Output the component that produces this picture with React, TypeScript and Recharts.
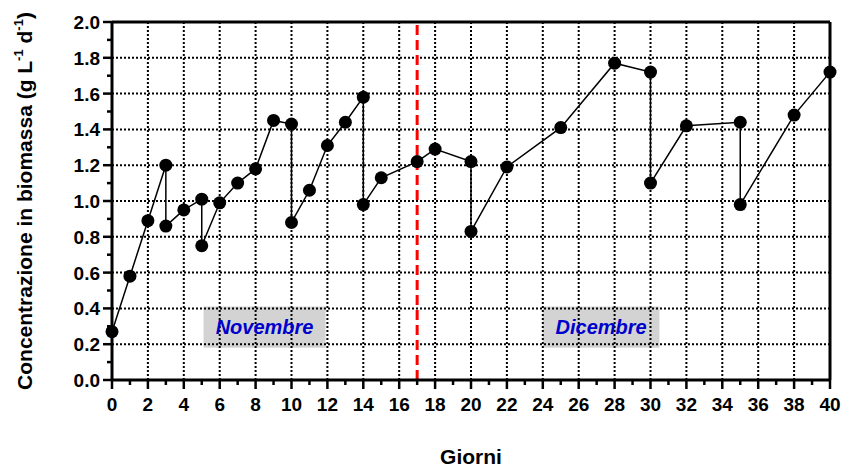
import React from 'react'
import {
  ScatterChart,
  Scatter,
  XAxis,
  YAxis,
  ReferenceLine,
  ReferenceArea,
} from 'recharts'

// giorno di campionamento e concentrazione misurata (prima/dopo diluizione)
const days = [0, 1, 2, 3, 3, 4, 5, 5, 6, 7, 8, 9, 10, 10, 11, 12, 13, 14, 14, 15, 17, 18, 20, 20, 22, 25, 28, 30, 30, 32, 35, 35, 38, 40]
const biomass = [0.27, 0.58, 0.89, 1.2, 0.86, 0.95, 1.01, 0.75, 0.99, 1.1, 1.18, 1.45, 1.43, 0.88, 1.06, 1.31, 1.44, 1.58, 0.98, 1.13, 1.22, 1.29, 1.22, 0.83, 1.19, 1.41, 1.77, 1.72, 1.1, 1.42, 1.44, 0.98, 1.48, 1.72]

const xTicks = [0, 1, 2, 3, 4, 5, 6, 7, 8, 9, 10, 11, 12, 13, 14, 15, 16, 17, 18, 19, 20, 21, 22, 23, 24, 25, 26, 27, 28, 29, 30, 31, 32, 33, 34, 35, 36, 37, 38, 39, 40]
const yTicks = [0, 0.1, 0.2, 0.3, 0.4, 0.5, 0.6, 0.7, 0.8, 0.9, 1.0, 1.1, 1.2, 1.3, 1.4, 1.5, 1.6, 1.7, 1.8, 1.9, 2.0]
const xGrid = [2, 4, 6, 8, 10, 12, 14, 16, 18, 20, 22, 24, 26, 28, 30, 32, 34, 36, 38]
const yGrid = [0.2, 0.4, 0.6, 0.8, 1.0, 1.2, 1.4, 1.6, 1.8]
const monthSplit = 17

const months = [
  { name: 'Novembre', from: 5.1, to: 11.9 },
  { name: 'Dicembre', from: 24.0, to: 30.5 },
]

const data = days.map((d, i) => ({ day: d, value: biomass[i] }))

const FONT = '"Liberation Sans", Arial, sans-serif'

const isMajorX = (v: number) => v % 2 === 0
const isMajorY = (v: number) => Math.round(v * 10) % 2 === 0

const BottomTick = ({ x, y, payload }: any) => {
  const major = isMajorX(payload.value)
  return (
    <g>
      <line x1={x} x2={x} y1={y} y2={y + (major ? 9 : 5)} stroke="#000" strokeWidth={2.5} />
      {major && (
        <text x={x} y={y + 31} textAnchor="middle" fontSize={19} fontWeight="bold" fontFamily={FONT} fill="#000">
          {payload.value}
        </text>
      )}
    </g>
  )
}

const TopTick = ({ x, y, payload }: any) => {
  const major = isMajorX(payload.value)
  return <line x1={x} x2={x} y1={y} y2={y - (major ? 9 : 5)} stroke="#000" strokeWidth={2.5} />
}

const LeftTick = ({ x, y, payload }: any) => {
  const major = isMajorY(payload.value)
  return (
    <g>
      <line x1={x} x2={x - (major ? 9 : 5)} y1={y} y2={y} stroke="#000" strokeWidth={2.5} />
      {major && (
        <text x={x - 12} y={y + 7} textAnchor="end" fontSize={19} fontWeight="bold" fontFamily={FONT} fill="#000">
          {payload.value.toFixed(1)}
        </text>
      )}
    </g>
  )
}

const RightTick = ({ x, y, payload }: any) => {
  const major = isMajorY(payload.value)
  return <line x1={x} x2={x + (major ? 9 : 5)} y1={y} y2={y} stroke="#000" strokeWidth={2.5} />
}

const YTitle = ({ viewBox }: any) => {
  const cx = 32
  const cy = viewBox.y + viewBox.height / 2
  return (
    <text
      x={cx}
      y={cy}
      transform={`rotate(-90, ${cx}, ${cy})`}
      textAnchor="middle"
      fontSize={21}
      fontWeight="bold"
      fontFamily={FONT}
      fill="#000"
    >
      Concentrazione in biomassa (g L<tspan dy={-9} fontSize={13}>-1</tspan>
      <tspan dy={9}> d</tspan>
      <tspan dy={-9} fontSize={13}>-1</tspan>
      <tspan dy={9}>)</tspan>
    </text>
  )
}

const XTitle = ({ viewBox }: any) => (
  <text
    x={viewBox.x + viewBox.width / 2}
    y={viewBox.y + 84}
    textAnchor="middle"
    fontSize={21}
    fontWeight="bold"
    fontFamily={FONT}
    fill="#000"
  >
    Giorni
  </text>
)

const Dot = ({ cx, cy }: any) => <circle cx={cx} cy={cy} r={6.5} fill="#000" />

export default function App() {
  return (
    <div style={{ position: 'absolute', left: 0, top: 0, background: '#fff' }}>
      <ScatterChart width={842} height={467} margin={{ top: 0, right: 0, bottom: 0, left: 0 }}>
        <XAxis
          xAxisId="bottom"
          dataKey="day"
          type="number"
          domain={[0, 40]}
          ticks={xTicks}
          interval={0}
          height={87}
          tickSize={0}
          tickMargin={0}
          tickLine={false}
          tick={<BottomTick />}
          axisLine={{ stroke: '#000', strokeWidth: 3 }}
          label={<XTitle />}
        />
        <XAxis
          xAxisId="top"
          orientation="top"
          type="number"
          domain={[0, 40]}
          ticks={xTicks}
          interval={0}
          height={22}
          tickSize={0}
          tickMargin={0}
          tickLine={false}
          tick={<TopTick />}
          axisLine={{ stroke: '#000', strokeWidth: 3 }}
        />
        <YAxis
          yAxisId="left"
          dataKey="value"
          type="number"
          domain={[0, 2]}
          ticks={yTicks}
          interval={0}
          width={112}
          tickSize={0}
          tickMargin={0}
          tickLine={false}
          tick={<LeftTick />}
          axisLine={{ stroke: '#000', strokeWidth: 3 }}
          label={<YTitle />}
        />
        <YAxis
          yAxisId="right"
          orientation="right"
          type="number"
          domain={[0, 2]}
          ticks={yTicks}
          interval={0}
          width={12}
          tickSize={0}
          tickMargin={0}
          tickLine={false}
          tick={<RightTick />}
          axisLine={{ stroke: '#000', strokeWidth: 3 }}
        />

        {xGrid.map((v) => (
          <ReferenceLine key={`gx${v}`} x={v} xAxisId="bottom" yAxisId="left" stroke="#000" strokeWidth={2} strokeDasharray="2 2" />
        ))}
        {yGrid.map((v) => (
          <ReferenceLine key={`gy${v}`} y={v} xAxisId="bottom" yAxisId="left" stroke="#000" strokeWidth={2} strokeDasharray="2 2" />
        ))}

        {months.map((m) => (
          <ReferenceArea
            key={m.name}
            xAxisId="bottom"
            yAxisId="left"
            x1={m.from}
            x2={m.to}
            y1={0.18}
            y2={0.41}
            fill="#d3d3d3"
            fillOpacity={1}
            stroke="none"
            label={{
              value: m.name,
              position: 'center',
              fill: '#0000cc',
              fontSize: 20,
              fontWeight: 'bold',
              fontStyle: 'italic',
              fontFamily: FONT,
            }}
          />
        ))}

        <ReferenceLine
          x={monthSplit}
          xAxisId="bottom"
          yAxisId="left"
          stroke="#ff0000"
          strokeWidth={3}
          strokeDasharray="10 5"
        />

        <Scatter
          data={data}
          xAxisId="bottom"
          yAxisId="left"
          line={{ stroke: '#000', strokeWidth: 1.5 }}
          shape={<Dot />}
          isAnimationActive={false}
        />
      </ScatterChart>
    </div>
  )
}
